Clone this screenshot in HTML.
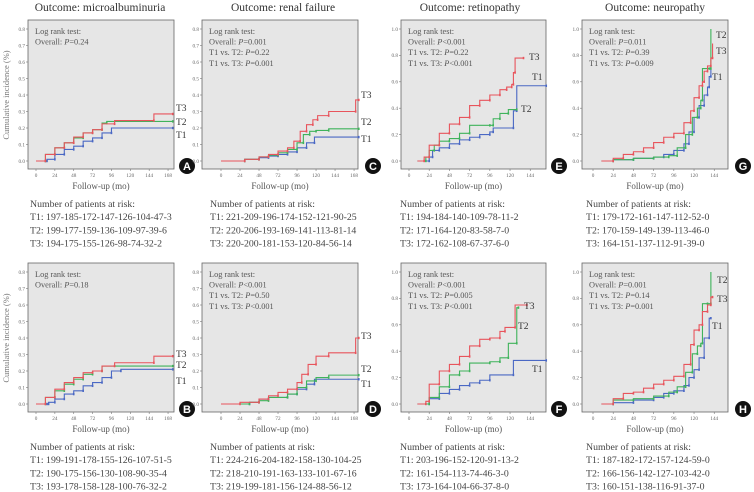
<!DOCTYPE html>
<html><head><meta charset="utf-8"><style>
html,body{margin:0;padding:0;background:#fff;}
svg{display:block;}
svg text{font-family:"Liberation Serif","DejaVu Serif",serif;}
svg text.sans{font-family:"Liberation Sans","DejaVu Sans",sans-serif;}
</style></head><body>
<svg id="fig" width="754" height="492" viewBox="0 0 754 492" xmlns="http://www.w3.org/2000/svg"></svg>
<script>
// ---- data: step points [month, cumulative incidence] ----
const A_T1=[[0,0],[12,0],[14,0.01],[24,0.04],[36,0.07],[48,0.09],[60,0.12],[72,0.14],[84,0.17],[96,0.2],[174,0.2]];
const A_T2=[[0,0],[12,0.04],[24,0.08],[36,0.11],[48,0.14],[60,0.17],[72,0.19],[84,0.23],[90,0.24],[174,0.24]];
const A_T3=[[0,0],[12,0.04],[24,0.08],[36,0.11],[48,0.145],[60,0.17],[72,0.19],[84,0.225],[100,0.245],[150,0.285],[174,0.285]];
const B_T1=[[0,0],[14,0],[16,0.01],[24,0.03],[36,0.06],[48,0.08],[60,0.11],[72,0.13],[84,0.16],[96,0.2],[108,0.21],[174,0.21]];
const B_T2=[[0,0],[12,0.04],[24,0.08],[36,0.12],[48,0.15],[60,0.18],[72,0.2],[84,0.23],[174,0.23]];
const B_T3=[[0,0],[12,0.04],[24,0.09],[36,0.13],[48,0.16],[60,0.19],[72,0.2],[84,0.23],[100,0.25],[150,0.29],[174,0.29]];
const C_T1=[[0,0],[30,0.01],[48,0.02],[60,0.03],[72,0.04],[84,0.055],[96,0.08],[108,0.11],[118,0.145],[174,0.145]];
const C_T2=[[0,0],[30,0.01],[48,0.025],[60,0.035],[72,0.05],[84,0.07],[96,0.11],[104,0.16],[112,0.18],[120,0.185],[136,0.195],[174,0.195]];
const C_T3=[[0,0],[30,0.01],[48,0.025],[60,0.04],[72,0.06],[84,0.08],[92,0.12],[100,0.18],[108,0.22],[116,0.25],[122,0.275],[136,0.3],[170,0.37],[174,0.37]];
const D_T1=[[0,0],[36,0.01],[48,0.03],[60,0.04],[84,0.06],[96,0.09],[108,0.12],[118,0.15],[174,0.15]];
const D_T2=[[0,0],[36,0.01],[48,0.02],[60,0.04],[84,0.06],[96,0.1],[108,0.14],[120,0.16],[136,0.175],[174,0.175]];
const D_T3=[[0,0],[24,0.01],[48,0.03],[60,0.05],[72,0.07],[84,0.09],[96,0.13],[102,0.18],[110,0.24],[120,0.29],[136,0.31],[170,0.4],[174,0.4]];
const E_T1=[[10,0],[24,0.03],[28,0.08],[36,0.1],[48,0.13],[60,0.16],[72,0.18],[84,0.2],[96,0.22],[100,0.25],[124,0.38],[128,0.57],[163,0.57]];
const E_T2=[[10,0],[20,0.03],[24,0.08],[30,0.12],[36,0.15],[48,0.17],[60,0.21],[72,0.27],[96,0.27],[100,0.32],[108,0.36],[118,0.39],[128,0.39]];
const E_T3=[[10,0],[18,0.03],[24,0.12],[36,0.21],[48,0.28],[60,0.33],[72,0.42],[84,0.46],[96,0.5],[108,0.54],[116,0.56],[122,0.58],[124,0.67],[126,0.78],[136,0.78]];
const F_T1=[[10,0],[24,0.04],[36,0.08],[48,0.11],[60,0.14],[72,0.16],[84,0.18],[96,0.22],[124,0.33],[163,0.33]];
const F_T2=[[10,0],[24,0.05],[36,0.13],[48,0.22],[60,0.25],[72,0.31],[96,0.32],[108,0.35],[118,0.46],[128,0.73],[130,0.73]];
const F_T3=[[10,0],[20,0.02],[24,0.15],[36,0.25],[48,0.3],[60,0.36],[72,0.44],[84,0.49],[96,0.5],[108,0.55],[114,0.58],[126,0.75],[140,0.75]];
const G_T1=[[10,0],[24,0.01],[48,0.02],[72,0.03],[84,0.05],[96,0.08],[108,0.13],[114,0.22],[120,0.33],[126,0.42],[132,0.5],[136,0.56],[138,0.64],[140,0.71]];
const G_T2=[[10,0],[24,0.01],[48,0.02],[72,0.03],[90,0.04],[100,0.1],[110,0.2],[118,0.33],[124,0.4],[128,0.46],[130,0.7],[138,0.7],[140,1.0]];
const G_T3=[[10,0],[24,0.02],[36,0.05],[48,0.07],[60,0.1],[72,0.14],[84,0.18],[96,0.21],[108,0.29],[116,0.38],[120,0.48],[126,0.57],[130,0.6],[132,0.68],[136,0.72],[140,0.78],[142,0.89]];
const H_T1=[[10,0],[24,0.01],[48,0.03],[72,0.05],[84,0.08],[96,0.1],[108,0.14],[114,0.2],[120,0.26],[126,0.35],[132,0.5],[138,0.65],[140,0.65]];
const H_T2=[[10,0],[24,0.03],[48,0.04],[72,0.06],[90,0.09],[100,0.13],[110,0.24],[118,0.38],[124,0.44],[128,0.46],[130,0.76],[136,0.76],[140,1.0]];
const H_T3=[[10,0],[24,0.04],[36,0.08],[48,0.09],[60,0.12],[72,0.15],[84,0.18],[96,0.21],[108,0.3],[116,0.45],[120,0.56],[126,0.6],[130,0.7],[136,0.75],[140,0.81],[142,0.81]];

const xTicks168=[0,24,48,72,96,120,144,168];
const xTicks144=[0,24,48,72,96,120,144];
const yTicks08=[0,0.1,0.2,0.3,0.4,0.5,0.6,0.7,0.8];
const yTicks10=[0,0.2,0.4,0.6,0.8,1.0];

const titles=["Outcome: microalbuminuria","Outcome: renal failure","Outcome: retinopathy","Outcome: neuropathy"];
const stats={
 A:["Log rank test:","Overall: |P|=0.24"],
 B:["Log rank test:","Overall: |P|=0.18"],
 C:["Log rank test:","Overall: |P|=0.001","T1 vs. T2: |P|=0.22","T1 vs. T3: |P|=0.001"],
 D:["Log rank test:","Overall: |P|<0.001","T1 vs. T2: |P|=0.50","T1 vs. T3: |P|<0.001"],
 E:["Log rank test:","Overall: |P|<0.001","T1 vs. T2: |P|=0.22","T1 vs. T3: |P|<0.001"],
 F:["Log rank test:","Overall: |P|<0.001","T1 vs. T2: |P|=0.005","T1 vs. T3: |P|<0.001"],
 G:["Log rank test:","Overall: |P|=0.011","T1 vs. T2: |P|=0.39","T1 vs. T3: |P|=0.009"],
 H:["Log rank test:","Overall: |P|=0.001","T1 vs. T2: |P|=0.14","T1 vs. T3: |P|=0.001"]
};
const risk={
 A:["T1: 197-185-172-147-126-104-47-3","T2: 199-177-159-136-109-97-39-6","T3: 194-175-155-126-98-74-32-2"],
 B:["T1: 199-191-178-155-126-107-51-5","T2: 190-175-156-130-108-90-35-4","T3: 193-178-158-128-100-76-32-2"],
 C:["T1: 221-209-196-174-152-121-90-25","T2: 220-206-193-169-141-113-81-14","T3: 220-200-181-153-120-84-56-14"],
 D:["T1: 224-216-204-182-158-130-104-25","T2: 218-210-191-163-133-101-67-16","T3: 219-199-181-156-124-88-56-12"],
 E:["T1: 194-184-140-109-78-11-2","T2: 171-164-120-83-58-7-0","T3: 172-162-108-67-37-6-0"],
 F:["T1: 203-196-152-120-91-13-2","T2: 161-154-113-74-46-3-0","T3: 173-164-104-66-37-8-0"],
 G:["T1: 179-172-161-147-112-52-0","T2: 170-159-149-139-113-46-0","T3: 164-151-137-112-91-39-0"],
 H:["T1: 187-182-172-157-124-59-0","T2: 166-156-142-127-103-42-0","T3: 160-151-138-116-91-37-0"]
};

const NS="http://www.w3.org/2000/svg";
const svg=document.getElementById('fig');
const COL={T1:"#4a68c4",T2:"#3fb35b",T3:"#e8545c"};
const SERIF='"Liberation Serif", "DejaVu Serif", serif';
function mk(tag,attrs,parent){const e=document.createElementNS(NS,tag);for(const k in attrs)e.setAttribute(k,attrs[k]);if(tag==='text'&&!attrs['font-family'])e.setAttribute('font-family',SERIF);(parent||svg).appendChild(e);return e;}

const layout=[
 {id:"A",col:0,dy:0,bx:28,bxr:174,x0:36,pxm:0.786,ymax:0.8,yt:yTicks08,xt:xTicks168,series:{T1:A_T1,T2:A_T2,T3:A_T3},lab:{T3:[176,111],T2:[176,125],T1:[176,138]},circ:187,ytitle:true},
 {id:"C",col:1,dy:0,bx:202,bxr:358,x0:221,pxm:0.792,ymax:0.8,yt:yTicks08,xt:xTicks168,series:{T1:C_T1,T2:C_T2,T3:C_T3},lab:{T3:[361,98],T2:[361,125],T1:[361,142]},circ:373},
 {id:"E",col:2,dy:0,bx:401,bxr:546,x0:409,pxm:0.842,ymax:1.0,yt:yTicks10,xt:xTicks144,series:{T1:E_T1,T2:E_T2,T3:E_T3},lab:{T3:[529,60],T1:[532,80],T2:[521,112]},circ:559},
 {id:"G",col:3,dy:0,bx:582,bxr:728,x0:593,pxm:0.842,ymax:1.0,yt:yTicks10,xt:xTicks144,series:{T1:G_T1,T2:G_T2,T3:G_T3},lab:{T2:[716,38],T3:[716,54],T1:[712,80]},circ:743},
 {id:"B",col:0,dy:243,bx:28,bxr:174,x0:36,pxm:0.786,ymax:0.8,yt:yTicks08,xt:xTicks168,series:{T1:B_T1,T2:B_T2,T3:B_T3},lab:{T3:[176,114],T2:[176,125],T1:[176,141]},circ:187,ytitle:true},
 {id:"D",col:1,dy:243,bx:202,bxr:358,x0:221,pxm:0.792,ymax:0.8,yt:yTicks08,xt:xTicks168,series:{T1:D_T1,T2:D_T2,T3:D_T3},lab:{T3:[361,96],T2:[361,129],T1:[361,144]},circ:373},
 {id:"F",col:2,dy:243,bx:401,bxr:546,x0:409,pxm:0.842,ymax:1.0,yt:yTicks10,xt:xTicks144,series:{T1:F_T1,T2:F_T2,T3:F_T3},lab:{T3:[524,66],T2:[518,86],T1:[532,129]},circ:559},
 {id:"H",col:3,dy:243,bx:582,bxr:728,x0:593,pxm:0.842,ymax:1.0,yt:yTicks10,xt:xTicks144,series:{T1:H_T1,T2:H_T2,T3:H_T3},lab:{T2:[717,40],T3:[717,59],T1:[712,86]},circ:743}
];
const titleX=[100,283,470,655];

layout.forEach(p=>{
 const g=mk('g',{});
 
 
 const y0=161+p.dy, ytop=29+p.dy;
 const ys=(y0-ytop)/p.ymax;
 const X=t=>p.x0+t*p.pxm;
 const Y=v=>y0-v*ys;
 if(p.dy===0){
  const t=mk('text',{x:titleX[p.col],y:11,'text-anchor':'middle','font-size':11.5,fill:'#333'},g);
  t.textContent=titles[p.col];
  
  
 }
 const box=mk('rect',{x:p.bx,y:20+p.dy,width:p.bxr-p.bx,height:y0+8-(20+p.dy),fill:'#e6e6e6',stroke:'#666','stroke-width':0.8},g);
 
 
 p.yt.forEach(v=>{
  mk('line',{x1:p.bx-2,x2:p.bx,y1:Y(v),y2:Y(v),stroke:'#777','stroke-width':0.6},g);
  const t=mk('text',{x:p.bx-3,y:Y(v)+1.8,'text-anchor':'end','font-size':5.2,fill:'#666'},g);
  t.textContent=v.toFixed(1);
  
  
 });
 const by=y0+8;
 p.xt.forEach(v=>{
  mk('line',{x1:X(v),x2:X(v),y1:by,y2:by+2,stroke:'#777','stroke-width':0.6},g);
  const t=mk('text',{x:X(v),y:by+8,'text-anchor':'middle','font-size':5.2,fill:'#666'},g);
  t.textContent=v;
  
  
 });
 const xt=mk('text',{x:(p.bx+p.bxr)/2,y:189+p.dy,'text-anchor':'middle','font-size':9,fill:'#555'},g);
 xt.textContent="Follow-up (mo)";
 
 
 if(p.ytitle){
  const yt=mk('text',{x:0,y:0,'text-anchor':'middle','font-size':8.5,fill:'#777',transform:`translate(9,${95+p.dy}) rotate(-90)`},g);
  yt.textContent="Cumulative incidence (%)";
  
  
 }
 ['T1','T2','T3'].forEach(k=>{
  const pts=p.series[k];
  let d=`M${X(pts[0][0])},${Y(pts[0][1])}`;
  for(let i=1;i<pts.length;i++){d+=` H${X(pts[i][0])} V${Y(pts[i][1])}`;}
  const path=mk('path',{d:d,fill:'none',stroke:COL[k],'stroke-width':1.1},g);
  
  
  for(let i=1;i<pts.length;i++){
   const c=mk('rect',{x:X(pts[i][0])-0.8,y:Y(pts[i-1][1])-1.2,width:1.6,height:2.4,fill:COL[k]},g);
   
   
  }
  const l=mk('text',{x:p.lab[k][0],y:p.lab[k][1]+p.dy,'font-size':9.5,fill:'#333'},g);
  l.textContent=k;
  
  
 });
 stats[p.id].forEach((s,i)=>{
  const t=mk('text',{x:p.bx+7,y:34+i*10.6+p.dy,'font-size':8.3,fill:'#555'},g);
  const parts=s.split('|');
  parts.forEach((pt,j)=>{const ts=mk('tspan',{},t);ts.textContent=pt;if(j===1)ts.setAttribute('font-style','italic');});
  
  
 });
 const cc=mk('circle',{cx:p.circ,cy:166+p.dy,r:8,fill:'#111'},g);
 
 
 const ct=mk('text',{x:p.circ,y:170+p.dy,'text-anchor':'middle','font-size':11,'font-weight':'bold','font-family':'"Liberation Sans", sans-serif',fill:'#fff',class:'sans'},g);
 ct.textContent=p.id;
 
 
 const rx=[30,210,400,586][p.col];
 const rl=[ "Number of patients at risk:" ].concat(risk[p.id]);
 rl.forEach((s,i)=>{
  const t=mk('text',{x:rx,y:207+i*13.2+p.dy,'font-size':9.8,fill:'#444'},g);
  t.textContent=s;
  
  
 });
});
</script>
</body></html>
